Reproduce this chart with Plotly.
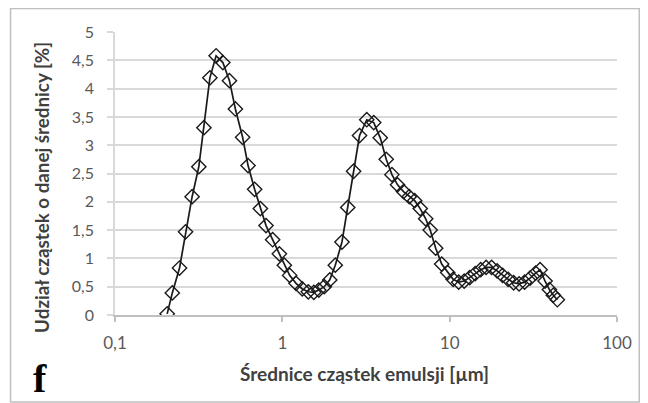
import plotly.graph_objects as go

diameters_um = [
    0.205, 0.220, 0.243, 0.264, 0.289, 0.317, 0.340, 0.369, 0.402, 0.441,
    0.483, 0.524, 0.579, 0.624, 0.683, 0.739, 0.799, 0.875, 0.960, 1.028,
    1.106, 1.207, 1.316, 1.429, 1.543, 1.651, 1.781, 1.921, 2.072, 2.272,
    2.460, 2.665, 2.893, 3.195, 3.518, 3.847, 4.177, 4.518, 4.880, 5.300,
    5.731, 6.180, 6.667, 7.190, 7.649, 8.251, 8.959, 9.730, 10.49, 11.32,
    12.21, 13.16, 14.20, 15.32, 16.51, 17.81, 19.21, 20.72, 22.36, 24.11,
    25.99, 28.04, 30.24, 32.62, 34.70, 37.17, 39.43, 41.65, 44.01,
]
share_pct = [
    0.02, 0.39, 0.83, 1.47, 2.09, 2.62, 3.31, 4.19, 4.58, 4.46,
    4.14, 3.64, 3.14, 2.64, 2.22, 1.88, 1.58, 1.33, 1.08, 0.88,
    0.70, 0.56, 0.46, 0.41, 0.40, 0.44, 0.50, 0.62, 0.88, 1.29,
    1.90, 2.54, 3.17, 3.45, 3.40, 3.13, 2.75, 2.48, 2.30, 2.18,
    2.09, 2.02, 1.88, 1.70, 1.50, 1.18, 0.90, 0.75, 0.63, 0.58,
    0.60, 0.66, 0.73, 0.80, 0.84, 0.84, 0.78, 0.70, 0.63, 0.57,
    0.55, 0.58, 0.65, 0.74, 0.80, 0.60, 0.45, 0.35, 0.27,
]

x_title = "Średnice cząstek emulsji [µm]"
y_title = "Udział cząstek o danej średnicy [%]"
panel_label = "f"

# page is rendered with an 8px body margin
OFF = 8
W, H = 640, 395
L, R, T, B = 106.5, 31.3, 24.3, 88
pw, ph = W - L - R, H - T - B

def px(page_x):
    return (page_x - OFF - L) / pw

def py(page_y):
    return (H - B - (page_y - OFF)) / ph

fig = go.Figure()
fig.add_trace(go.Scatter(
    x=diameters_um, y=share_pct, mode="lines+markers",
    line=dict(color="#1a1a1a", width=1.7),
    marker=dict(symbol="diamond-open", size=11, color="#1a1a1a",
                line=dict(width=1.4, color="#1a1a1a")),
    showlegend=False,
))

font_main = "Lato, 'Open Sans', sans-serif"
fig.update_layout(
    width=W, height=H,
    margin=dict(l=L, r=R, t=T, b=B),
    paper_bgcolor="white", plot_bgcolor="white",
    separators=", ",
    font=dict(family=font_main, size=13, color="#595959"),
    xaxis=dict(
        type="log", range=[-1, 2], dtick=1, showgrid=False,
        showline=True, linecolor="#bfbfbf", linewidth=1.5,
        ticks="outside", ticklen=5, tickcolor="#bfbfbf", tickwidth=1.5,
        ticklabelstandoff=7, zeroline=False,
        tickfont=dict(size=17, color="#595959"),
    ),
    yaxis=dict(
        range=[0, 5], dtick=0.5, showgrid=True, gridcolor="#d9d9d9",
        gridwidth=1.5, showline=True, linecolor="#d9d9d9", linewidth=1.5,
        ticks="outside", ticklen=6, tickcolor="#d9d9d9", tickwidth=1.5,
        ticklabelstandoff=10, zeroline=False,
        tickfont=dict(size=16, color="#595959"),
    ),
)

fig.add_annotation(
    text="<b>" + x_title + "</b>", xref="paper", yref="paper",
    x=px(364.5), y=py(373), showarrow=False,
    xanchor="center", yanchor="middle",
    font=dict(family=font_main, size=19, color="#404040"),
)
fig.add_annotation(
    text="<b>" + y_title + "</b>", xref="paper", yref="paper",
    x=px(41), y=py(187.5), showarrow=False, textangle=-90,
    xanchor="center", yanchor="middle",
    font=dict(family=font_main, size=18.8, color="#404040"),
)
fig.add_annotation(
    text="<b>" + panel_label + "</b>", xref="paper", yref="paper",
    x=px(39.5), y=py(378), showarrow=False,
    xanchor="center", yanchor="middle",
    font=dict(family="Liberation Serif, serif", size=40, color="black"),
)
fig.add_shape(
    type="rect", xref="paper", yref="paper",
    x0=px(10), x1=px(639), y0=py(402), y1=py(8.8),
    line=dict(color="#bfbfbf", width=1.5), fillcolor="rgba(0,0,0,0)",
    layer="below",
)

fig.write_html("out.html")
